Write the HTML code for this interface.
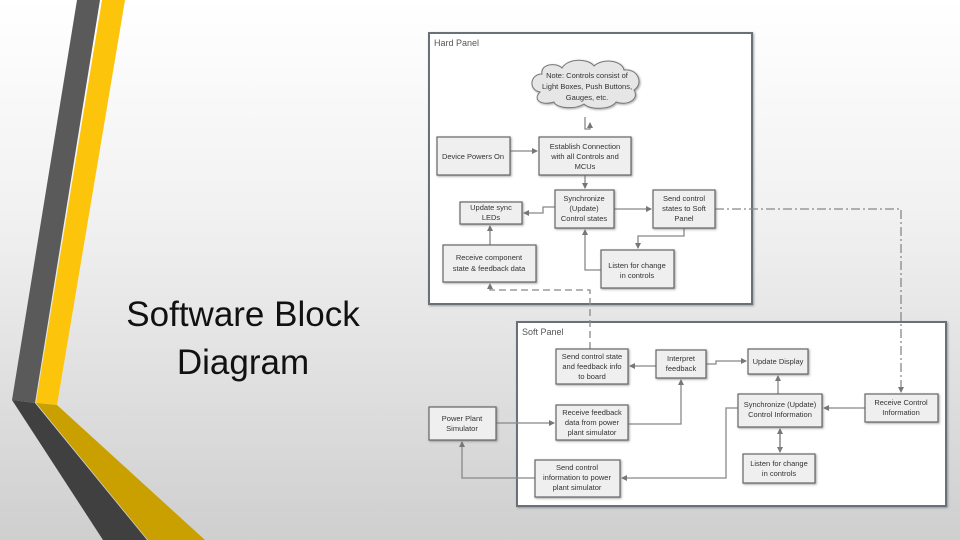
<!DOCTYPE html>
<html><head><meta charset="utf-8"><style>
html,body{margin:0;padding:0}
body{width:960px;height:540px;overflow:hidden;position:relative;font-family:"Liberation Sans",sans-serif;background:linear-gradient(180deg,#ffffff 0%,#f1f1f1 40%,#cfcfcf 100%)}
svg{position:absolute;left:0;top:0}
.t{font-family:"Liberation Sans",sans-serif;fill:#333;font-size:7.5px;text-anchor:middle}
</style></head><body>
<svg width="960" height="540" viewBox="0 0 960 540">
<defs>
<marker id="a" markerWidth="6" markerHeight="6" refX="5" refY="3" orient="auto" markerUnits="userSpaceOnUse"><path d="M0,0 L6,3 L0,6z" fill="#777"/></marker>
<filter id="sh" x="-10%" y="-10%" width="130%" height="130%"><feDropShadow dx="1" dy="1" stdDeviation="1" flood-color="#666" flood-opacity="0.6"/></filter>
</defs>
<!-- stripes -->
<polygon points="77,0 100,0 35,403 12,400" fill="#5a5a5a"/>
<polygon points="12,400 35,403 147,540 103,540" fill="#404040"/>
<polygon points="102,0 125,0 57,405 36,403" fill="#fcc40a"/>
<polygon points="36,403 57,405 205,540 148,540" fill="#c9a000"/>
<text x="243" y="326" font-family="Liberation Sans, sans-serif" font-size="35" text-anchor="middle" fill="#111">Software Block</text>
<text x="243" y="374" font-family="Liberation Sans, sans-serif" font-size="35" text-anchor="middle" fill="#111">Diagram</text>

<!-- panels -->
<rect x="429" y="33" width="323" height="271" fill="#fff" stroke="#6a6f7a" stroke-width="2" filter="url(#sh)"/>
<text x="434" y="46" font-size="9" fill="#555" font-family="Liberation Sans, sans-serif">Hard Panel</text>
<rect x="517" y="322" width="429" height="184" fill="#fff" stroke="#6a6f7a" stroke-width="2" filter="url(#sh)"/>
<text x="522" y="335" font-size="9" fill="#555" font-family="Liberation Sans, sans-serif">Soft Panel</text>

<g fill="none" stroke="#888" stroke-width="1.3">
<!-- hard panel lines -->
<path d="M510,151 H537" marker-end="url(#a)"/>
<path d="M585,117 V129 H590 V123" marker-end="url(#a)"/>
<path d="M585,175 V188" marker-end="url(#a)"/>
<path d="M555,207 H543 V213 H524" marker-end="url(#a)"/>
<path d="M614,209 H651" marker-end="url(#a)"/>
<path d="M684,228 V236 H638 V248" marker-end="url(#a)"/>
<path d="M601,270 H585 V230" marker-end="url(#a)"/>
<path d="M490,245 V226" marker-end="url(#a)"/>
<path d="M590,349 V290 H490 V284" stroke-dasharray="7,4" marker-end="url(#a)"/>
<path d="M715,209 H901 V392" stroke-dasharray="9,3,2,3" marker-end="url(#a)"/>
<!-- soft panel lines -->
<path d="M656,366 H630" marker-end="url(#a)"/>
<path d="M706,364 H716 V361 H746" marker-end="url(#a)"/>
<path d="M628,424 H681 V380" marker-end="url(#a)"/>
<path d="M496,423 H554" marker-end="url(#a)"/>
<path d="M778,394 V376" marker-end="url(#a)"/>
<path d="M865,408 H824" marker-end="url(#a)"/>
<path d="M780,429 V452" marker-end="url(#a)"/>
<path d="M780,450 V429" marker-end="url(#a)"/>
<path d="M738,408 H726 V478 H622" marker-end="url(#a)"/>
<path d="M535,478 H462 V442" marker-end="url(#a)"/>
</g>

<!-- cloud -->
<path d="M540,92 C528,90 530,74 542,74 C540,64 556,62 562,68 C568,58 588,58 594,66 C602,58 622,60 624,70 C638,68 644,84 634,90 C640,100 626,106 616,102 C610,110 590,110 584,104 C574,110 556,108 554,102 C542,106 532,100 540,92 Z" fill="#e6e6e6" stroke="#777" stroke-width="1" filter="url(#sh)"/>
<text class="t" x="587" y="78">Note: Controls consist of</text>
<text class="t" x="587" y="89">Light Boxes, Push Buttons,</text>
<text class="t" x="587" y="100">Gauges, etc.</text>

<g fill="#efefef" stroke="#666" stroke-width="1.2" filter="url(#sh)">
<rect x="437" y="137" width="73" height="38"/>
<rect x="539" y="137" width="92" height="38"/>
<rect x="555" y="190" width="59" height="38"/>
<rect x="460" y="202" width="62" height="22"/>
<rect x="653" y="190" width="62" height="38"/>
<rect x="443" y="245" width="93" height="37"/>
<rect x="601" y="250" width="73" height="38"/>
<rect x="556" y="349" width="72" height="35"/>
<rect x="656" y="350" width="50" height="28"/>
<rect x="748" y="349" width="60" height="25"/>
<rect x="556" y="405" width="72" height="35"/>
<rect x="429" y="407" width="67" height="33"/>
<rect x="738" y="394" width="84" height="33"/>
<rect x="865" y="394" width="73" height="28"/>
<rect x="743" y="454" width="72" height="29"/>
<rect x="535" y="460" width="85" height="37"/>
</g>
<g class="t">
<text class="t" x="473" y="159">Device Powers On</text>
<text class="t" x="585" y="149">Establish Connection</text>
<text class="t" x="585" y="159">with all Controls and</text>
<text class="t" x="585" y="169">MCUs</text>
<text class="t" x="584" y="201">Synchronize</text>
<text class="t" x="584" y="211">(Update)</text>
<text class="t" x="584" y="221">Control states</text>
<text class="t" x="491" y="210">Update sync</text>
<text class="t" x="491" y="220">LEDs</text>
<text class="t" x="684" y="201">Send control</text>
<text class="t" x="684" y="211">states to Soft</text>
<text class="t" x="684" y="221">Panel</text>
<text class="t" x="489" y="260">Receive component</text>
<text class="t" x="489" y="271">state &amp; feedback data</text>
<text class="t" x="637" y="268">Listen for change</text>
<text class="t" x="637" y="278">in controls</text>
<text class="t" x="592" y="359">Send control state</text>
<text class="t" x="592" y="369">and feedback info</text>
<text class="t" x="592" y="379">to board</text>
<text class="t" x="681" y="361">Interpret</text>
<text class="t" x="681" y="371">feedback</text>
<text class="t" x="778" y="364">Update Display</text>
<text class="t" x="592" y="415">Receive feedback</text>
<text class="t" x="592" y="425">data from power</text>
<text class="t" x="592" y="435">plant simulator</text>
<text class="t" x="462" y="421">Power Plant</text>
<text class="t" x="462" y="431">Simulator</text>
<text class="t" x="780" y="407">Synchronize (Update)</text>
<text class="t" x="780" y="417">Control Information</text>
<text class="t" x="901" y="405">Receive Control</text>
<text class="t" x="901" y="415">Information</text>
<text class="t" x="779" y="466">Listen for change</text>
<text class="t" x="779" y="476">in controls</text>
<text class="t" x="577" y="470">Send control</text>
<text class="t" x="577" y="480">information to power</text>
<text class="t" x="577" y="490">plant simulator</text>
</g>
</svg>
</body></html>
